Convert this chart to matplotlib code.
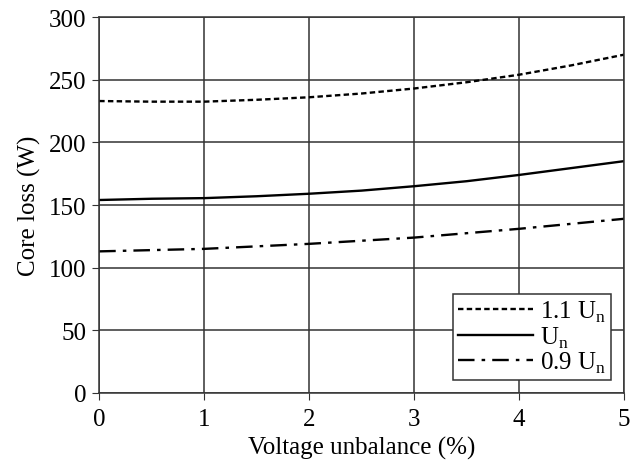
import matplotlib.pyplot as plt

plt.rcParams["font.family"] = ["Liberation Serif", "DejaVu Serif"]
plt.rcParams["mathtext.fontset"] = "custom"
plt.rcParams["mathtext.rm"] = "Liberation Serif"

# Datos
desbalance = [0, 0.5, 1, 1.5, 2, 2.5, 3, 3.5, 4, 4.5, 5]
perdidas_11 = [233, 232.5, 232.5, 234, 236, 239, 243, 248, 254, 261.5, 270]
perdidas_10 = [154, 155, 155.5, 157, 159, 161.5, 165, 169, 174, 179.5, 185]
perdidas_09 = [113, 114, 115, 117, 119, 121.5, 124, 127.5, 131, 135, 139]

fig = plt.figure(figsize=(6.4, 4.64), dpi=100)
ax = fig.add_axes([0.155, 0.151, 0.82, 0.81])

ax.plot(desbalance, perdidas_11, color="black", lw=1.7, ls=(0, (2.3, 1.4)), label=r"1.1 U$_\mathrm{n}$")
ax.plot(desbalance, perdidas_10, color="black", lw=1.7, ls="-", label=r"U$_\mathrm{n}$")
ax.plot(desbalance, perdidas_09, color="black", lw=1.7, ls=(0, (7, 3, 1.5, 3)), label=r"0.9 U$_\mathrm{n}$")

ax.set_xlim(0, 5)
ax.set_ylim(0, 300)
ax.set_xticks(range(0, 6))
ax.set_yticks(range(0, 301, 50))
ax.grid(True, color="#333333", lw=1.1)
for s in ax.spines.values():
    s.set_color("#333333")
    s.set_linewidth(1.1)
ax.tick_params(labelsize=18, length=5, color="#333333")
ax.tick_params(axis="x", pad=6)
ax.tick_params(axis="y", pad=4)
ax.set_xlabel("Voltage unbalance (%)", fontsize=18, labelpad=4)
ax.set_ylabel("Core loss (W)", fontsize=18, labelpad=6)

leg = ax.legend(loc="lower right", fontsize=18, frameon=True, fancybox=False,
                edgecolor="#333333", framealpha=1, handlelength=3.0,
                handletextpad=0.25, labelspacing=0.0, borderpad=0.2,
                borderaxespad=0, bbox_to_anchor=(0.975, 0.035))
leg.get_frame().set_linewidth(1.1)

fig.savefig("out.png", dpi=100)
